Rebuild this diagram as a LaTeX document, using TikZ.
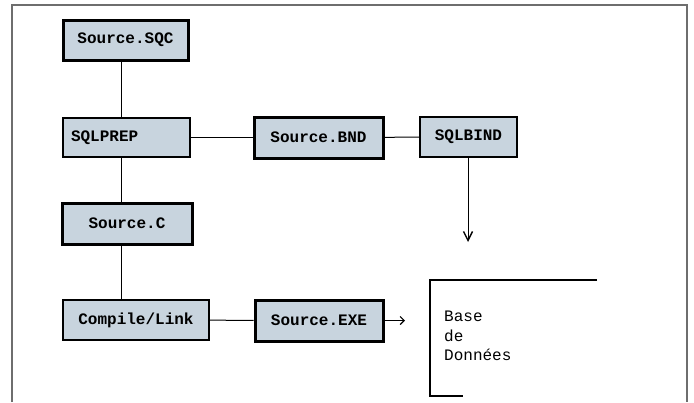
\documentclass[tikz,border=0pt]{standalone}
\usepackage{fontspec}
\setmonofont{Liberation Mono}
\usetikzlibrary{arrows.meta,positioning}

\definecolor{boxfill}{RGB}{200,212,222}
\definecolor{framegray}{RGB}{110,110,110}

\begin{document}
\begin{tikzpicture}[
  x=1pt, y=-1pt,
  font=\fontsize{16}{19.5}\selectfont\ttfamily,
  box/.style={draw, fill=boxfill, line width=1.2pt, inner sep=0pt, font=\fontsize{16}{19.5}\selectfont\ttfamily\bfseries},
  filebox/.style={box, line width=3pt},
  link/.style={line width=1pt},
  barb/.style={line width=1pt, -{Straight Barb[length=9pt,width=9pt,line width=1.4pt]}},
  smallbarb/.style={line width=1pt, -{Straight Barb[length=4pt,width=8pt,line width=1.2pt]}}
]
\useasboundingbox (0,0) rectangle (694,402);
% cadre
\draw[framegray, line width=1.5pt] (12,402) -- (12,5) -- (687,5) -- (687,402);

\node[filebox, minimum width=125pt, minimum height=40pt] (sqc) at (125.5,40) {Source.SQC};
\node[box, minimum width=127pt, minimum height=39pt, text width=111pt, align=left] (sqlprep) at (126.5,137.5) {SQLPREP};
\node[filebox, minimum width=129pt, minimum height=41pt] (bnd) at (318.5,137.5) {Source.BND};
\node[box, minimum width=97pt, minimum height=40pt] (sqlbind) at (468.5,137) {SQLBIND};
\node[filebox, minimum width=130pt, minimum height=41pt] (srcc) at (127,223.5) {Source.C};
\node[box, minimum width=146pt, minimum height=40pt] (compile) at (136,320) {Compile/Link};
\node[filebox, minimum width=128pt, minimum height=41pt] (exe) at (319,320.5) {Source.EXE};

% base de donnees
\node[anchor=west, align=left, inner sep=0pt] (db) at (444,336) {Base\\de\\Données};
\draw[line width=1.2pt] (597,280) -- (430,280) -- (430,396) -- (463,396);

\coordinate (spine) at (121,0);
\coordinate (bindend) at (468,242);
\coordinate (exeend) at (405,320.5);

\draw[link] (sqc.south -| spine) -- (sqlprep.north -| spine);
\draw[link] (sqlprep.south -| spine) -- (srcc.north -| spine);
\draw[link] (srcc.south -| spine) -- (compile.north -| spine);
\draw[link] (sqlprep) -- (bnd);
\draw[link] (bnd) -- (sqlbind);
\draw[link] (compile) -- (exe);
\draw[barb] (sqlbind.south -| bindend) -- (bindend);
\draw[smallbarb] (exe) -- (exeend);
\end{tikzpicture}
\end{document}
